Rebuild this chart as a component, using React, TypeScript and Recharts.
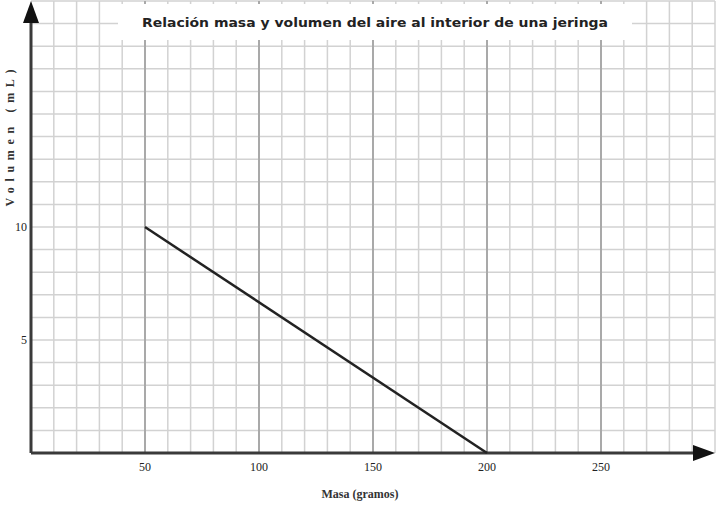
import React from 'react';
import { LineChart, Line, XAxis, YAxis, CartesianGrid, ReferenceLine } from 'recharts';

const masa = [50, 200];
const volumen = [10, 0];
const xTicks = [50, 100, 150, 200, 250];
const yTicks = [5, 10];
const xMax = 300;
const yMax = 20;

const title = 'Relación masa y volumen del aire al interior de una jeringa';
const xLabel = 'Masa (gramos)';
const yLabel = 'Volumen (mL)';

const data = masa.map((m, i) => ({ masa: m, volumen: volumen[i] }));

// grid: light lines every 10 g / 1 mL, darker verticals on the labelled ticks
const minorX = Array.from({ length: xMax / 10 }, (_, i) => (i + 1) * 10);
const minorY = Array.from({ length: yMax }, (_, i) => i + 1);

const serif = '"Liberation Serif", "DejaVu Serif", serif';

const scaleOf = (axis: any) => {
  const s = axis?.scale;
  if (typeof s === 'function') return (v: number) => s(v);
  if (s && typeof s.map === 'function') return (v: number) => s.map(v);
  return null;
};

const vertGen = (values: number[]) => ({ xAxis, offset }: any) => {
  const sc = scaleOf(xAxis);
  return values.map((v) => (sc ? sc(v) : offset.left + (offset.width * v) / xMax));
};

const horzGen = (values: number[]) => ({ yAxis, offset }: any) => {
  const sc = scaleOf(yAxis);
  return values.map((v) => (sc ? sc(v) : offset.top + offset.height * (1 - v / yMax)));
};

const Arrow = (props: any) => {
  const { x1, y1, x2, y2 } = props;
  const dx = x2 - x1;
  const dy = y2 - y1;
  const len = Math.hypot(dx, dy) || 1;
  const ux = dx / len;
  const uy = dy / len;
  const head = 22;
  const half = 8;
  const bx = x2 - ux * head;
  const by = y2 - uy * head;
  const pts = `${x2},${y2} ${bx - uy * half},${by + ux * half} ${bx + uy * half},${by - ux * half}`;
  return (
    <g>
      <line x1={x1} y1={y1} x2={bx + ux * 2} y2={by + uy * 2} stroke="#3a3a3a" strokeWidth={3} />
      <polygon points={pts} fill="#111" />
    </g>
  );
};

export default function App() {
  return (
    <div style={{ position: 'absolute', left: 0, top: 0, width: 720, height: 507, background: '#fff' }}>
      <LineChart
        width={720}
        height={507}
        data={data}
        margin={{ top: 1, right: 5, bottom: 0, left: 0 }}
      >
        <CartesianGrid
          stroke="#d2d2d2"
          strokeWidth={1.5}
          verticalCoordinatesGenerator={vertGen(minorX)}
          horizontalCoordinatesGenerator={horzGen(minorY)}
        />
        <CartesianGrid
          stroke="#a9a9a9"
          strokeWidth={2}
          horizontal={false}
          verticalCoordinatesGenerator={vertGen(xTicks)}
        />
        <XAxis
          dataKey="masa"
          type="number"
          domain={[0, xMax]}
          ticks={xTicks}
          axisLine={false}
          tickLine={false}
          tickSize={0}
          tickMargin={9}
          height={54}
          tick={{ fontFamily: serif, fontSize: 12, fill: '#222' }}
          label={{
            content: () => (
              <text x={360} y={498} textAnchor="middle" fontFamily={serif} fontSize={12} fontWeight="bold" fill="#333">
                {xLabel}
              </text>
            ),
          }}
        />
        <YAxis
          type="number"
          domain={[0, yMax]}
          ticks={yTicks}
          axisLine={false}
          tickLine={false}
          tickSize={0}
          tickMargin={4}
          width={31}
          tick={{ fontFamily: serif, fontSize: 12, fill: '#222' }}
          label={{
            content: () => (
              <text
                x={10}
                y={138}
                transform="rotate(-90 10 138)"
                textAnchor="middle"
                dominantBaseline="central"
                fontFamily={serif}
                fontSize={12}
                fontWeight="bold"
                fill="#333"
                textLength={137}
                lengthAdjust="spacing"
              >
                {yLabel}
              </text>
            ),
          }}
        />
        <ReferenceLine
          segment={[{ x: 0, y: 0 }, { x: 0, y: yMax }]}
          ifOverflow="visible"
          shape={Arrow}
        />
        <ReferenceLine
          segment={[{ x: 0, y: 0 }, { x: xMax, y: 0 }]}
          ifOverflow="visible"
          shape={Arrow}
        />
        <Line
          dataKey="volumen"
          stroke="#222"
          strokeWidth={2.5}
          dot={false}
          isAnimationActive={false}
        />
      </LineChart>
      <div
        style={{
          position: 'absolute',
          left: 118,
          top: 4,
          width: 514,
          height: 36,
          background: '#fff',
        }}
      >
        <svg width={514} height={36}>
          <text
            x={257}
            y={23}
            textAnchor="middle"
            fontFamily='"DejaVu Sans", sans-serif'
            fontSize={13}
            fontWeight="bold"
            fill="#222"
            textLength={466}
            lengthAdjust="spacingAndGlyphs"
          >
            {title}
          </text>
        </svg>
      </div>
    </div>
  );
}
